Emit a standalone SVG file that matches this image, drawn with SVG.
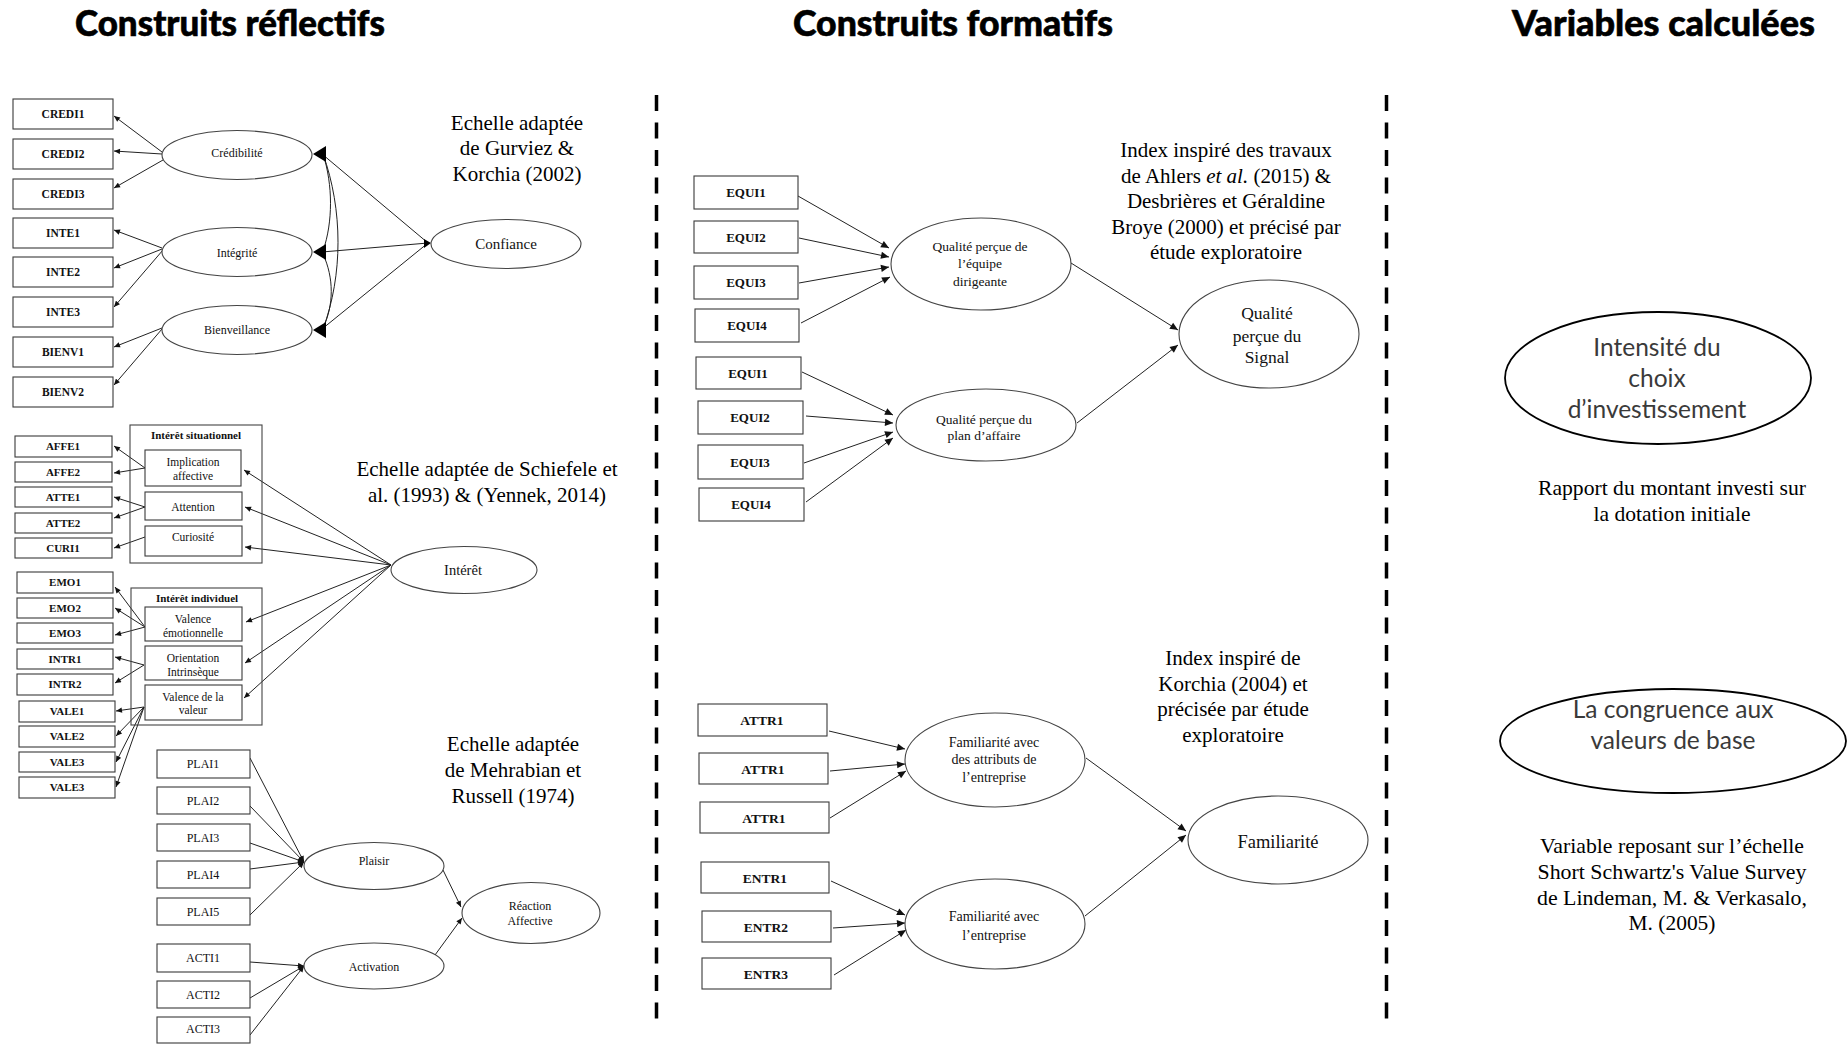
<svg xmlns="http://www.w3.org/2000/svg" width="1848" height="1044" viewBox="0 0 1848 1044">
<style>
.bg{fill:#fff}
.box{fill:#fff;stroke:#3a3a3a;stroke-width:1.1}
.ell{fill:#fff;stroke:#444;stroke-width:1.1}
.ellb{fill:#fff;stroke:#000;stroke-width:1.8}
.grp{fill:none;stroke:#444;stroke-width:1.1}
.cn{stroke:#222;stroke-width:1;fill:none}
.dash{stroke:#000;stroke-width:3.5;stroke-dasharray:16 11.5;fill:none}
.title{font-family:"Lato","Liberation Sans",sans-serif;font-weight:900;font-size:36px;fill:#000;stroke:#000;stroke-width:0.6}
.sb{font-family:"Liberation Serif","Times New Roman",serif;font-weight:bold;text-anchor:middle;fill:#111}
.s{font-family:"Liberation Serif","Times New Roman",serif;text-anchor:middle;fill:#111}
.note{font-family:"Liberation Serif","Times New Roman",serif;text-anchor:middle;font-size:21px;fill:#000}
.calc{font-family:"Lato","Liberation Sans",sans-serif;text-anchor:middle;font-size:24.5px;fill:#3a3a3a}
</style>
<defs>
<marker id="ah" viewBox="0 0 10 10" refX="10" refY="5" markerWidth="7" markerHeight="6" markerUnits="userSpaceOnUse" orient="auto"><path d="M0,0.5 L10,5 L0,9.5 z" fill="#111"/></marker>
<marker id="ah2" viewBox="0 0 10 10" refX="10" refY="5" markerWidth="9" markerHeight="8" markerUnits="userSpaceOnUse" orient="auto"><path d="M0,0.5 L10,5 L0,9.5 z" fill="#111"/></marker>
</defs>
<rect class="bg" x="0" y="0" width="1848" height="1044"/>

<g id="titles">
<text class="title" x="75" y="36" textLength="310" lengthAdjust="spacingAndGlyphs">Construits réflectifs</text>
<text class="title" x="793" y="36" textLength="320" lengthAdjust="spacingAndGlyphs">Construits formatifs</text>
<text class="title" x="1512" y="36" textLength="303" lengthAdjust="spacingAndGlyphs">Variables calculées</text>
</g>

<g id="separators">
<line class="dash" x1="656.5" y1="95" x2="656.5" y2="1022"/>
<line class="dash" x1="1386.5" y1="95" x2="1386.5" y2="1022"/>
</g>

<g id="connectors">
<line class="cn" x1="162" y1="152" x2="114" y2="116" marker-end="url(#ah)"/>
<line class="cn" x1="162" y1="154" x2="114" y2="151" marker-end="url(#ah)"/>
<line class="cn" x1="163" y1="160" x2="114" y2="188" marker-end="url(#ah)"/>
<line class="cn" x1="162" y1="248" x2="114" y2="230" marker-end="url(#ah)"/>
<line class="cn" x1="162" y1="249" x2="114" y2="268" marker-end="url(#ah)"/>
<line class="cn" x1="163" y1="250" x2="114" y2="307" marker-end="url(#ah)"/>
<line class="cn" x1="162" y1="328" x2="114" y2="347" marker-end="url(#ah)"/>
<line class="cn" x1="162" y1="329" x2="114" y2="385" marker-end="url(#ah)"/>
<line class="cn" x1="428" y1="243" x2="322" y2="154"/>
<line class="cn" x1="428" y1="243" x2="322" y2="252"/>
<line class="cn" x1="428" y1="243" x2="322" y2="329"/>
<path class="cn" d="M323,154 C333,185 333,222 323,251"/>
<path class="cn" d="M323,254 C334,278 334,305 323,328"/>
<path class="cn" d="M323,154 C343,210 343,275 323,329"/>
<polygon points="313,154 326,146 326,162" fill="#000"/>
<polygon points="313,252 326,244 326,260" fill="#000"/>
<polygon points="313,330 326,322 326,338" fill="#000"/>
<polygon points="424,239 431,243 424,248" fill="#000"/>

<line class="cn" x1="391" y1="565" x2="244" y2="470" marker-end="url(#ah)"/>
<line class="cn" x1="391" y1="565" x2="245" y2="507" marker-end="url(#ah)"/>
<line class="cn" x1="391" y1="565" x2="245" y2="547" marker-end="url(#ah)"/>
<line class="cn" x1="391" y1="565" x2="246" y2="622" marker-end="url(#ah)"/>
<line class="cn" x1="391" y1="565" x2="245" y2="663" marker-end="url(#ah)"/>
<line class="cn" x1="391" y1="565" x2="244" y2="698" marker-end="url(#ah)"/>
<line class="cn" x1="145" y1="468" x2="114" y2="446" marker-end="url(#ah)"/>
<line class="cn" x1="145" y1="468" x2="114" y2="473" marker-end="url(#ah)"/>
<line class="cn" x1="145" y1="507" x2="114" y2="497" marker-end="url(#ah)"/>
<line class="cn" x1="145" y1="507" x2="114" y2="518" marker-end="url(#ah)"/>
<line class="cn" x1="145" y1="537" x2="114" y2="548" marker-end="url(#ah)"/>
<line class="cn" x1="145" y1="627" x2="115" y2="587" marker-end="url(#ah)"/>
<line class="cn" x1="145" y1="627" x2="115" y2="608" marker-end="url(#ah)"/>
<line class="cn" x1="145" y1="627" x2="115" y2="635" marker-end="url(#ah)"/>
<line class="cn" x1="144" y1="665" x2="115" y2="657" marker-end="url(#ah)"/>
<line class="cn" x1="144" y1="665" x2="115" y2="683" marker-end="url(#ah)"/>
<line class="cn" x1="144" y1="707" x2="116" y2="711" marker-end="url(#ah)"/>
<line class="cn" x1="144" y1="707" x2="116" y2="736" marker-end="url(#ah)"/>
<line class="cn" x1="144" y1="707" x2="116" y2="762" marker-end="url(#ah)"/>
<line class="cn" x1="144" y1="707" x2="116" y2="787" marker-end="url(#ah)"/>

<line class="cn" x1="250" y1="758" x2="304" y2="862" marker-end="url(#ah)"/>
<line class="cn" x1="250" y1="806" x2="304" y2="862" marker-end="url(#ah)"/>
<line class="cn" x1="250" y1="843" x2="304" y2="862" marker-end="url(#ah)"/>
<line class="cn" x1="250" y1="869" x2="304" y2="862" marker-end="url(#ah)"/>
<line class="cn" x1="250" y1="915" x2="304" y2="862" marker-end="url(#ah)"/>
<line class="cn" x1="250" y1="962" x2="304" y2="966" marker-end="url(#ah)"/>
<line class="cn" x1="250" y1="998" x2="304" y2="966" marker-end="url(#ah)"/>
<line class="cn" x1="250" y1="1035" x2="304" y2="966" marker-end="url(#ah)"/>
<line class="cn" x1="443" y1="870" x2="461" y2="907" marker-end="url(#ah)"/>
<line class="cn" x1="435" y1="955" x2="462" y2="918" marker-end="url(#ah)"/>

<line class="cn" x1="798" y1="196" x2="889" y2="248" marker-end="url(#ah2)"/>
<line class="cn" x1="799" y1="238" x2="889" y2="257" marker-end="url(#ah2)"/>
<line class="cn" x1="799" y1="283" x2="889" y2="267" marker-end="url(#ah2)"/>
<line class="cn" x1="801" y1="323" x2="890" y2="277" marker-end="url(#ah2)"/>
<line class="cn" x1="802" y1="372" x2="893" y2="415" marker-end="url(#ah2)"/>
<line class="cn" x1="806" y1="416" x2="893" y2="423" marker-end="url(#ah2)"/>
<line class="cn" x1="804" y1="463" x2="893" y2="432" marker-end="url(#ah2)"/>
<line class="cn" x1="806" y1="502" x2="893" y2="438" marker-end="url(#ah2)"/>
<line class="cn" x1="1071" y1="263" x2="1178" y2="330" marker-end="url(#ah2)"/>
<line class="cn" x1="1077" y1="423" x2="1178" y2="345" marker-end="url(#ah2)"/>

<line class="cn" x1="829" y1="731" x2="905" y2="749" marker-end="url(#ah2)"/>
<line class="cn" x1="830" y1="771" x2="905" y2="764" marker-end="url(#ah2)"/>
<line class="cn" x1="830" y1="818" x2="906" y2="771" marker-end="url(#ah2)"/>
<line class="cn" x1="831" y1="881" x2="905" y2="915" marker-end="url(#ah2)"/>
<line class="cn" x1="833" y1="928" x2="905" y2="923" marker-end="url(#ah2)"/>
<line class="cn" x1="834" y1="975" x2="906" y2="930" marker-end="url(#ah2)"/>
<line class="cn" x1="1086" y1="758" x2="1186" y2="831" marker-end="url(#ah2)"/>
<line class="cn" x1="1085" y1="916" x2="1186" y2="835" marker-end="url(#ah2)"/>
</g>

<g id="CREDI1"><rect class="box" x="13" y="99" width="100" height="30"/><text class="sb" x="63" y="118" font-size="11.5">CREDI1</text></g>
<g id="CREDI2"><rect class="box" x="13" y="139" width="100" height="30"/><text class="sb" x="63" y="158" font-size="11.5">CREDI2</text></g>
<g id="CREDI3"><rect class="box" x="13" y="179" width="100" height="30"/><text class="sb" x="63" y="198" font-size="11.5">CREDI3</text></g>
<g id="INTE1"><rect class="box" x="13" y="218" width="100" height="30"/><text class="sb" x="63" y="237" font-size="11.5">INTE1</text></g>
<g id="INTE2"><rect class="box" x="13" y="257" width="100" height="30"/><text class="sb" x="63" y="276" font-size="11.5">INTE2</text></g>
<g id="INTE3"><rect class="box" x="13" y="297" width="100" height="30"/><text class="sb" x="63" y="316" font-size="11.5">INTE3</text></g>
<g id="BIENV1"><rect class="box" x="13" y="337" width="100" height="30"/><text class="sb" x="63" y="356" font-size="11.5">BIENV1</text></g>
<g id="BIENV2"><rect class="box" x="13" y="377" width="100" height="30"/><text class="sb" x="63" y="396" font-size="11.5">BIENV2</text></g>

<g id="credibilite"><ellipse class="ell" cx="237" cy="155" rx="75" ry="24.5"/><text class="s" x="237" y="157" font-size="12">Crédibilité</text></g>
<g id="integrite"><ellipse class="ell" cx="237" cy="252" rx="75" ry="24.5"/><text class="s" x="237" y="257" font-size="12">Intégrité</text></g>
<g id="bienveillance"><ellipse class="ell" cx="237" cy="330" rx="75" ry="24.5"/><text class="s" x="237" y="334" font-size="12">Bienveillance</text></g>
<g id="confiance"><ellipse class="ell" cx="506" cy="244" rx="75" ry="24.5"/><text class="s" x="506" y="249" font-size="15">Confiance</text></g>

<g id="note-gurviez">
<text class="note" x="517" y="130">Echelle adaptée</text>
<text class="note" x="517" y="155">de Gurviez &amp;</text>
<text class="note" x="517" y="181">Korchia (2002)</text>
</g>

<g id="AFFE1"><rect class="box" x="15" y="436" width="97" height="21"/><text class="sb" x="63" y="450" font-size="11">AFFE1</text></g>
<g id="AFFE2"><rect class="box" x="15" y="462" width="97" height="20"/><text class="sb" x="63" y="476" font-size="11">AFFE2</text></g>
<g id="ATTE1"><rect class="box" x="15" y="487" width="97" height="20"/><text class="sb" x="63" y="501" font-size="11">ATTE1</text></g>
<g id="ATTE2"><rect class="box" x="15" y="513" width="97" height="20"/><text class="sb" x="63" y="527" font-size="11">ATTE2</text></g>
<g id="CURI1"><rect class="box" x="15" y="538" width="97" height="20"/><text class="sb" x="63" y="552" font-size="11">CURI1</text></g>
<g id="EMO1"><rect class="box" x="17" y="572" width="96" height="21"/><text class="sb" x="65" y="586" font-size="11">EMO1</text></g>
<g id="EMO2"><rect class="box" x="17" y="598" width="96" height="20"/><text class="sb" x="65" y="612" font-size="11">EMO2</text></g>
<g id="EMO3"><rect class="box" x="17" y="623" width="96" height="20"/><text class="sb" x="65" y="637" font-size="11">EMO3</text></g>
<g id="INTR1"><rect class="box" x="17" y="649" width="96" height="20"/><text class="sb" x="65" y="663" font-size="11">INTR1</text></g>
<g id="INTR2"><rect class="box" x="17" y="674" width="96" height="21"/><text class="sb" x="65" y="688" font-size="11">INTR2</text></g>
<g id="VALE1"><rect class="box" x="19" y="701" width="96" height="21"/><text class="sb" x="67" y="715" font-size="11">VALE1</text></g>
<g id="VALE2"><rect class="box" x="19" y="726" width="96" height="21"/><text class="sb" x="67" y="740" font-size="11">VALE2</text></g>
<g id="VALE3a"><rect class="box" x="19" y="752" width="96" height="20"/><text class="sb" x="67" y="766" font-size="11">VALE3</text></g>
<g id="VALE3b"><rect class="box" x="19" y="777" width="96" height="21"/><text class="sb" x="67" y="791" font-size="11">VALE3</text></g>

<g id="interet-situationnel">
<rect class="grp" x="130" y="425" width="132" height="138"/>
<text class="sb" x="196" y="439" font-size="11">Intérêt situationnel</text>
<rect class="box" x="145" y="450" width="96" height="36"/>
<text class="s" x="193" y="466" font-size="11.5">Implication</text>
<text class="s" x="193" y="480" font-size="11.5">affective</text>
<rect class="box" x="145" y="492" width="97" height="28"/>
<text class="s" x="193" y="511" font-size="11.5">Attention</text>
<rect class="box" x="145" y="526" width="97" height="30"/>
<text class="s" x="193" y="541" font-size="11.5">Curiosité</text>
</g>

<g id="interet-individuel">
<rect class="grp" x="131" y="588" width="131" height="137"/>
<text class="sb" x="197" y="602" font-size="11">Intérêt individuel</text>
<rect class="box" x="145" y="607" width="97" height="34"/>
<text class="s" x="193" y="623" font-size="11.5">Valence</text>
<text class="s" x="193" y="637" font-size="11.5">émotionnelle</text>
<rect class="box" x="145" y="646" width="97" height="34"/>
<text class="s" x="193" y="662" font-size="11.5">Orientation</text>
<text class="s" x="193" y="676" font-size="11.5">Intrinsèque</text>
<rect class="box" x="145" y="685" width="97" height="35"/>
<text class="s" x="193" y="701" font-size="11.5">Valence de la</text>
<text class="s" x="193" y="714" font-size="11.5">valeur</text>
</g>

<g id="interet"><ellipse class="ell" cx="464" cy="570" rx="73" ry="23.5"/><text class="s" x="463" y="575" font-size="14.5">Intérêt</text></g>

<g id="note-schiefele">
<text class="note" x="487" y="476">Echelle adaptée de Schiefele et</text>
<text class="note" x="487" y="502">al. (1993) &amp; (Yennek, 2014)</text>
</g>

<g id="PLAI1"><rect class="box" x="157" y="750" width="93" height="28"/><text class="s" x="203" y="768" font-size="12">PLAI1</text></g>
<g id="PLAI2"><rect class="box" x="157" y="787" width="93" height="27"/><text class="s" x="203" y="805" font-size="12">PLAI2</text></g>
<g id="PLAI3"><rect class="box" x="157" y="824" width="93" height="27"/><text class="s" x="203" y="842" font-size="12">PLAI3</text></g>
<g id="PLAI4"><rect class="box" x="157" y="861" width="93" height="27"/><text class="s" x="203" y="879" font-size="12">PLAI4</text></g>
<g id="PLAI5"><rect class="box" x="157" y="898" width="93" height="27"/><text class="s" x="203" y="916" font-size="12">PLAI5</text></g>
<g id="ACTI1"><rect class="box" x="157" y="944" width="93" height="28"/><text class="s" x="203" y="962" font-size="12">ACTI1</text></g>
<g id="ACTI2"><rect class="box" x="157" y="981" width="93" height="27"/><text class="s" x="203" y="999" font-size="12">ACTI2</text></g>
<g id="ACTI3"><rect class="box" x="157" y="1017" width="93" height="26"/><text class="s" x="203" y="1033" font-size="12">ACTI3</text></g>

<g id="plaisir"><ellipse class="ell" cx="374" cy="866" rx="70" ry="23.5"/><text class="s" x="374" y="865" font-size="12">Plaisir</text></g>
<g id="activation"><ellipse class="ell" cx="374" cy="966" rx="70" ry="23"/><text class="s" x="374" y="971" font-size="12">Activation</text></g>
<g id="reaction-affective"><ellipse class="ell" cx="531" cy="913" rx="69" ry="30.5"/><text class="s" x="530" y="910" font-size="12">Réaction</text><text class="s" x="530" y="925" font-size="12">Affective</text></g>

<g id="note-mehrabian">
<text class="note" x="513" y="751">Echelle adaptée</text>
<text class="note" x="513" y="777">de Mehrabian et</text>
<text class="note" x="513" y="803">Russell (1974)</text>
</g>

<g id="EQUI1a"><rect class="box" x="694" y="176" width="104" height="33"/><text class="sb" x="746" y="197" font-size="13">EQUI1</text></g>
<g id="EQUI2a"><rect class="box" x="694" y="221" width="104" height="32"/><text class="sb" x="746" y="242" font-size="13">EQUI2</text></g>
<g id="EQUI3a"><rect class="box" x="694" y="266" width="104" height="33"/><text class="sb" x="746" y="287" font-size="13">EQUI3</text></g>
<g id="EQUI4a"><rect class="box" x="695" y="309" width="104" height="33"/><text class="sb" x="747" y="330" font-size="13">EQUI4</text></g>
<g id="EQUI1b"><rect class="box" x="696" y="357" width="105" height="32"/><text class="sb" x="748" y="378" font-size="13">EQUI1</text></g>
<g id="EQUI2b"><rect class="box" x="698" y="401" width="105" height="33"/><text class="sb" x="750" y="422" font-size="13">EQUI2</text></g>
<g id="EQUI3b"><rect class="box" x="698" y="445" width="105" height="34"/><text class="sb" x="750" y="467" font-size="13">EQUI3</text></g>
<g id="EQUI4b"><rect class="box" x="699" y="488" width="105" height="33"/><text class="sb" x="751" y="509" font-size="13">EQUI4</text></g>

<g id="qualite-equipe"><ellipse class="ell" cx="981" cy="264" rx="90" ry="46"/>
<text class="s" x="980" y="251" font-size="13.5">Qualité perçue de</text>
<text class="s" x="980" y="268" font-size="13.5">l’équipe</text>
<text class="s" x="980" y="286" font-size="13.5">dirigeante</text></g>
<g id="qualite-plan"><ellipse class="ell" cx="986" cy="425" rx="90" ry="36"/>
<text class="s" x="984" y="424" font-size="13.5">Qualité perçue du</text>
<text class="s" x="984" y="440" font-size="13.5">plan d’affaire</text></g>
<g id="qualite-signal"><ellipse class="ell" cx="1269" cy="334" rx="90" ry="54"/>
<text class="s" x="1267" y="319" font-size="17.5">Qualité</text>
<text class="s" x="1267" y="342" font-size="17.5">perçue du</text>
<text class="s" x="1267" y="363" font-size="17.5">Signal</text></g>

<g id="note-ahlers">
<text class="note" x="1226" y="157">Index inspiré des travaux</text>
<text class="note" x="1226" y="183">de Ahlers <tspan font-style="italic">et al.</tspan> (2015) &amp;</text>
<text class="note" x="1226" y="208">Desbrières et Géraldine</text>
<text class="note" x="1226" y="234">Broye (2000) et précisé par</text>
<text class="note" x="1226" y="259">étude exploratoire</text>
</g>

<g id="ATTR1a"><rect class="box" x="698" y="704" width="129" height="32"/><text class="sb" x="762" y="725" font-size="13.5">ATTR1</text></g>
<g id="ATTR1b"><rect class="box" x="699" y="753" width="129" height="31"/><text class="sb" x="763" y="774" font-size="13.5">ATTR1</text></g>
<g id="ATTR1c"><rect class="box" x="700" y="802" width="129" height="31"/><text class="sb" x="764" y="823" font-size="13.5">ATTR1</text></g>
<g id="ENTR1"><rect class="box" x="701" y="862" width="128" height="31"/><text class="sb" x="765" y="883" font-size="13.5">ENTR1</text></g>
<g id="ENTR2"><rect class="box" x="702" y="911" width="129" height="31"/><text class="sb" x="766" y="932" font-size="13.5">ENTR2</text></g>
<g id="ENTR3"><rect class="box" x="702" y="958" width="129" height="31"/><text class="sb" x="766" y="979" font-size="13.5">ENTR3</text></g>

<g id="fam-attributs"><ellipse class="ell" cx="995" cy="760" rx="90" ry="47"/>
<text class="s" x="994" y="747" font-size="14">Familiarité avec</text>
<text class="s" x="994" y="764" font-size="14">des attributs de</text>
<text class="s" x="994" y="782" font-size="14">l’entreprise</text></g>
<g id="fam-entreprise"><ellipse class="ell" cx="995" cy="924" rx="90" ry="45"/>
<text class="s" x="994" y="921" font-size="14">Familiarité avec</text>
<text class="s" x="994" y="940" font-size="14">l’entreprise</text></g>
<g id="familiarite"><ellipse class="ell" cx="1278" cy="840" rx="90" ry="44"/>
<text class="s" x="1278" y="848" font-size="18.5">Familiarité</text></g>

<g id="note-korchia">
<text class="note" x="1233" y="665">Index inspiré de</text>
<text class="note" x="1233" y="691">Korchia (2004) et</text>
<text class="note" x="1233" y="716">précisée par étude</text>
<text class="note" x="1233" y="742">exploratoire</text>
</g>

<g id="intensite"><ellipse class="ellb" cx="1658" cy="378" rx="153" ry="66"/>
<text class="calc" x="1657" y="356">Intensité du</text>
<text class="calc" x="1657" y="387">choix</text>
<text class="calc" x="1657" y="418">d’investissement</text></g>
<g id="note-rapport">
<text class="note" x="1672" y="495" font-size="19.5" textLength="268" lengthAdjust="spacingAndGlyphs">Rapport du montant investi sur</text>
<text class="note" x="1672" y="521" font-size="19.5" textLength="157" lengthAdjust="spacingAndGlyphs">la dotation initiale</text>
</g>
<g id="congruence"><ellipse class="ellb" cx="1673" cy="741" rx="173" ry="52"/>
<text class="calc" x="1673" y="718">La congruence aux</text>
<text class="calc" x="1673" y="749">valeurs de base</text></g>
<g id="note-schwartz">
<text class="note" x="1672" y="853" font-size="19.5" textLength="264" lengthAdjust="spacingAndGlyphs">Variable reposant sur l’échelle</text>
<text class="note" x="1672" y="879" font-size="19.5" textLength="269" lengthAdjust="spacingAndGlyphs">Short Schwartz's Value Survey</text>
<text class="note" x="1672" y="905" font-size="19.5" textLength="270" lengthAdjust="spacingAndGlyphs">de Lindeman, M. &amp; Verkasalo,</text>
<text class="note" x="1672" y="930" font-size="19.5" textLength="87" lengthAdjust="spacingAndGlyphs">M. (2005)</text>
</g>
</svg>
